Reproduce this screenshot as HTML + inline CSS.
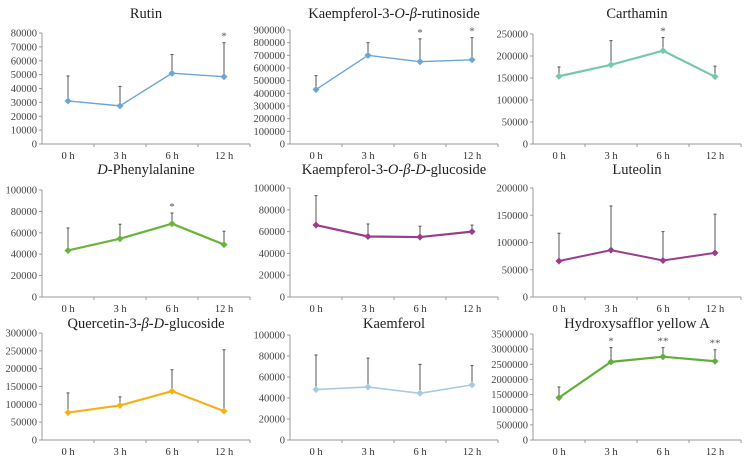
<!DOCTYPE html>
<html><head><meta charset="utf-8">
<style>
html,body{margin:0;padding:0;background:#fff;}
svg{display:block;font-family:"Liberation Serif",serif;}
</style></head>
<body>
<svg id="c" width="746" height="461" viewBox="0 0 746 461" xmlns="http://www.w3.org/2000/svg"></svg>
<script>
const categories = ["0 h","3 h","6 h","12 h"];
const rutinValues = [31000,27500,51000,48500];
const rutinErrTop = [49000,41500,64500,73000];
const rutinStars = ["","","","*"];
const kRutValues = [430000,700000,650000,665000];
const kRutErrTop = [540000,800000,830000,840000];
const kRutStars = ["","","*","*"];
const carthValues = [154000,180000,212000,153000];
const carthErrTop = [175000,235000,242000,177000];
const carthStars = ["","","*",""];
const pheValues = [43500,54500,68500,49000];
const pheErrTop = [64500,68000,78500,61500];
const pheStars = ["","","*",""];
const kGluValues = [66000,55500,55000,60000];
const kGluErrTop = [93000,67000,65000,66000];
const kGluStars = ["","","",""];
const lutValues = [66000,86000,67000,81000];
const lutErrTop = [117000,167000,120000,152000];
const lutStars = ["","","",""];
const querValues = [77000,97000,137000,81000];
const querErrTop = [132000,121000,197000,253000];
const querStars = ["","","",""];
const kaemValues = [48000,50500,44500,52500];
const kaemErrTop = [81000,78000,72000,71000];
const kaemStars = ["","","",""];
const hsyaValues = [1400000,2580000,2750000,2600000];
const hsyaErrTop = [1750000,3050000,3050000,2980000];
const hsyaStars = ["","*","**","**"];

const panels = [
 {name:"rutin",title:"Rutin",v:rutinValues,e:rutinErrTop,s:rutinStars,max:80000,step:10000,ax:42,top:33,bot:144,ty:18,col:"#6aa6d6",w:1.4},
 {name:"kaempferol-rutinoside",title:'Kaempferol-3-<tspan font-style="italic">O</tspan>-<tspan font-style="italic">β</tspan>-rutinoside',v:kRutValues,e:kRutErrTop,s:kRutStars,max:900000,step:100000,ax:290,top:30,bot:144,ty:18,col:"#6aa6d6",w:1.4},
 {name:"carthamin",title:"Carthamin",v:carthValues,e:carthErrTop,s:carthStars,max:250000,step:50000,ax:533,top:34,bot:144,ty:18,col:"#78c8aa",w:2.2},
 {name:"phenylalanine",title:'<tspan font-style="italic">D</tspan>-Phenylalanine',v:pheValues,e:pheErrTop,s:pheStars,max:100000,step:20000,ax:42,top:190,bot:297,ty:174,col:"#6ab43c",w:2.2},
 {name:"kaempferol-glucoside",title:'Kaempferol-3-<tspan font-style="italic">O</tspan>-<tspan font-style="italic">β</tspan>-<tspan font-style="italic">D</tspan>-glucoside',v:kGluValues,e:kGluErrTop,s:kGluStars,max:100000,step:20000,ax:290,top:188,bot:297,ty:174,col:"#9a3d8c",w:2.2},
 {name:"luteolin",title:"Luteolin",v:lutValues,e:lutErrTop,s:lutStars,max:200000,step:50000,ax:533,top:188,bot:297,ty:174,col:"#9a3d8c",w:2.0},
 {name:"quercetin-glucoside",title:'Quercetin-3-<tspan font-style="italic">β</tspan>-<tspan font-style="italic">D</tspan>-glucoside',v:querValues,e:querErrTop,s:querStars,max:300000,step:50000,ax:42,top:333,bot:440,ty:328,col:"#f5b11c",w:2.2},
 {name:"kaemferol",title:"Kaemferol",v:kaemValues,e:kaemErrTop,s:kaemStars,max:100000,step:20000,ax:290,top:335,bot:440,ty:328,col:"#a6cbe4",w:1.6},
 {name:"hsya",title:"Hydroxysafflor yellow A",v:hsyaValues,e:hsyaErrTop,s:hsyaStars,max:3500000,step:500000,ax:533,top:334,bot:440,ty:328,col:"#62ae3c",w:2.2}
];
const svg = document.getElementById("c");
const NS = "http://www.w3.org/2000/svg";
function mk(tag, attrs, parent){const el=document.createElementNS(NS,tag);for(const k in attrs)el.setAttribute(k,attrs[k]);parent.appendChild(el);return el;}

panels.forEach(p=>{
  const g = mk("g",{},svg);
  
  
  const bw = 52, x0 = p.ax;
  const xs = i => x0 + bw*(i+0.5);
  const ys = v => p.bot - (v/p.max)*(p.bot-p.top);
  const t = mk("text",{x:x0+104,y:p.ty,"text-anchor":"middle","font-size":"14.5",fill:"#222"},g);
  t.innerHTML = p.title;
  
  
  // y axis
  const ya = mk("line",{x1:x0,y1:p.top,x2:x0,y2:p.bot,stroke:"#999","stroke-width":1},g);
  
  
  for(let v=0; v<=p.max+1; v+=p.step){
    const y=ys(v);
    mk("line",{x1:x0-3,y1:y,x2:x0,y2:y,stroke:"#999"},g);
    const lb = mk("text",{x:x0-5,y:y+3.5,"text-anchor":"end","font-size":"10.5",fill:"#444"},g);
    lb.textContent = v;
    
    
  }
  const xa = mk("line",{x1:x0,y1:p.bot,x2:x0+bw*4,y2:p.bot,stroke:"#999"},g);
  
  
  for(let i=1;i<=4;i++) mk("line",{x1:x0+bw*i,y1:p.bot,x2:x0+bw*i,y2:p.bot+3,stroke:"#999"},g);
  categories.forEach((c,i)=>{
    const lb = mk("text",{x:xs(i),y:p.bot+15,"text-anchor":"middle","font-size":"10.5",fill:"#333"},g);
    lb.textContent = c;
    
    
  });
  // error bars
  p.v.forEach((v,i)=>{
    const eb = mk("line",{x1:xs(i),y1:ys(v),x2:xs(i),y2:ys(p.e[i]),stroke:"#555","stroke-width":1},g);
    
    
    mk("line",{x1:xs(i)-1.5,y1:ys(p.e[i]),x2:xs(i)+1.5,y2:ys(p.e[i]),stroke:"#555"},g);
    if(p.s[i]){
      const st = mk("text",{x:xs(i),y:ys(p.e[i])-3,"text-anchor":"middle","font-size":"11",fill:"#555"},g);
      st.textContent = p.s[i];
      
      
    }
  });
  const pts = p.v.map((v,i)=>xs(i)+","+ys(v)).join(" ");
  const ln = mk("polyline",{points:pts,fill:"none",stroke:p.col,"stroke-width":p.w},g);
  
  
  p.v.forEach((v,i)=>{
    const pt = mk("rect",{x:xs(i)-2.5,y:ys(v)-2.5,width:5,height:5,fill:p.col,transform:`rotate(45 ${xs(i)} ${ys(v)})`},g);
    
    
  });
});
</script>
</body></html>
